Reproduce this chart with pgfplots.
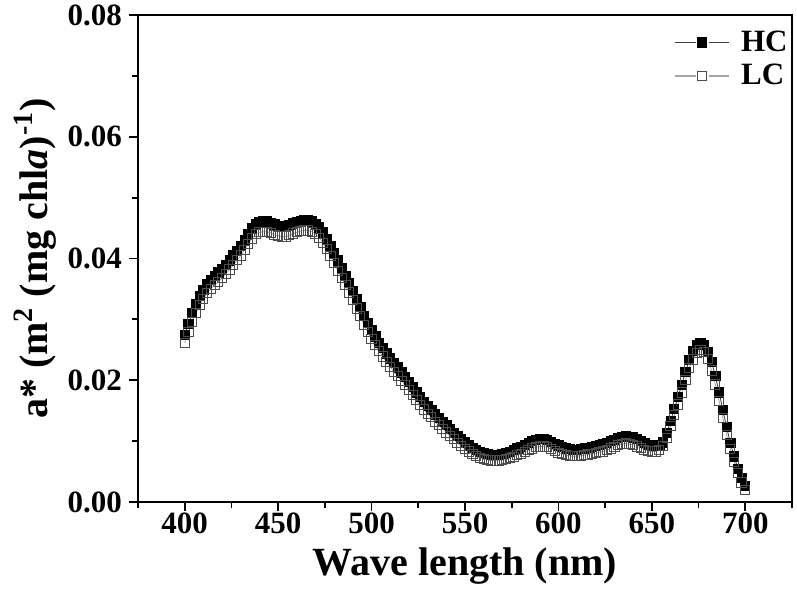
\documentclass[border=0pt]{standalone}
\usepackage{pgfplots}
\pgfplotsset{compat=1.18}
\usepackage{pgfplotstable}
\usepackage{fontspec}
\setmainfont{Liberation Serif}
\pgfplotstableread{
x LC HC
400 .0261 .0275
402 .0279 .0293
404 .0296 .0310
406 .0310 .0325
408 .0323 .0338
410 .0334 .0349
412 .0343 .0358
414 .0350 .0365
416 .0356 .0371
418 .0362 .0377
420 .0368 .0383
422 .0375 .0390
424 .0382 .0397
426 .0389 .0405
428 .0397 .0413
430 .0405 .0421
432 .0414 .0430
434 .0424 .0441
436 .0433 .0450
438 .0440 .0457
440 .0443 .0460
442 .0444 .0461
444 .0444 .0461
446 .0442 .0459
448 .0439 .0456
450 .0437 .0454
452 .0436 .0453
454 .0436 .0453
456 .0438 .0455
458 .0441 .0458
460 .0443 .0460
462 .0445 .0462
464 .0446 .0463
466 .0446 .0463
468 .0444 .0461
470 .0440 .0457
472 .0434 .0451
474 .0426 .0443
476 .0415 .0432
478 .0404 .0421
480 .0392 .0409
482 .0380 .0397
484 .0368 .0385
486 .0356 .0372
488 .0344 .0360
490 .0332 .0347
492 .0318 .0333
494 .0305 .0320
496 .0291 .0306
498 .0279 .0294
500 .0268 .0283
502 .0258 .0272
504 .0248 .0262
506 .0239 .0253
508 .0230 .0244
510 .0222 .0236
512 .0214 .0228
514 .0207 .0221
516 .0199 .0213
518 .0192 .0205
520 .0184 .0197
522 .0176 .0189
524 .0167 .0180
526 .0159 .0172
528 .0152 .0165
530 .0145 .0158
532 .0139 .0151
534 .0132 .0144
536 .0126 .0138
538 .0120 .0132
540 .0114 .0126
542 .0108 .0120
544 .0103 .0114
546 .0097 .0108
548 .0092 .0103
550 .0087 .0098
552 .0083 .0093
554 .0079 .0089
556 .0075 .0085
558 .0072 .0082
560 .0070 .0080
562 .0069 .0079
564 .0068 .0078
566 .0068 .0078
568 .0068 .0078
570 .0069 .0079
572 .0070 .0080
574 .0072 .0082
576 .0074 .0085
578 .0077 .0088
580 .0079 .0091
582 .0082 .0094
584 .0085 .0097
586 .0088 .0100
588 .0090 .0102
590 .0091 .0103
592 .0091 .0103
594 .0090 .0102
596 .0087 .0099
598 .0084 .0096
600 .0081 .0093
602 .0079 .0090
604 .0077 .0088
606 .0076 .0087
608 .0075 .0086
610 .0075 .0086
612 .0076 .0087
614 .0077 .0088
616 .0078 .0089
618 .0079 .0091
620 .0080 .0092
622 .0082 .0094
624 .0083 .0095
626 .0085 .0097
628 .0088 .0100
630 .0090 .0102
632 .0093 .0105
634 .0095 .0107
636 .0096 .0108
638 .0095 .0107
640 .0094 .0106
642 .0091 .0103
644 .0089 .0100
646 .0086 .0097
648 .0084 .0094
650 .0083 .0093
652 .0083 .0093
654 .0085 .0094
656 .0092 .0098
658 .0105 .0113
660 .0125 .0133
662 .0143 .0153
664 .0160 .0172
666 .0180 .0193
668 .0200 .0214
670 .0220 .0233
672 .0234 .0248
674 .0245 .0258
676 .0250 .0261
678 .0247 .0258
680 .0235 .0247
682 .0216 .0230
684 .0193 .0207
686 .0166 .0180
688 .0138 .0151
690 .0110 .0123
692 .0087 .0097
694 .0066 .0075
696 .0047 .0055
698 .0032 .0039
700 .0020 .0026
}\datatable
\begin{document}
\begin{tikzpicture}
\begin{axis}[
  scale only axis,
  width=327pt, height=243.5pt,
  xmin=375, xmax=725, ymin=0, ymax=0.08,
  xtick={400,450,...,700},
  minor xtick={375,425,...,725},
  ytick={0,0.02,...,0.08},
  minor ytick={0.01,0.03,...,0.07},
  tick align=outside,
  xtick pos=left, ytick pos=left,
  major tick length=4.5pt, minor tick length=3pt,
  every tick/.style={black, line width=0.9pt},
  axis line style={line width=1pt},
  /pgf/number format/assume math mode=true,
  ticklabel style={font=\fontsize{15.5}{15.5}\selectfont\bfseries},
  yticklabel style={/pgf/number format/.cd, fixed, fixed zerofill, precision=2},
  xticklabel style={/pgf/number format/.cd, fixed, precision=0},
  xticklabel shift=-2.5pt,
  scaled y ticks=false,
  xlabel={Wave length (nm)},
  ylabel={a* (m\textsuperscript{2} (mg chl\textit{a})\textsuperscript{-1})},
  label style={font=\fontsize{20}{20}\selectfont\bfseries},
  xlabel style={yshift=0pt},
  ylabel style={yshift=-1pt},
  legend style={draw=none, fill=none, at={(1.0,0.985)}, anchor=north east,
    xshift=3pt,
    font=\fontsize{15.5}{17}\selectfont\bfseries, row sep=1pt},
  legend cell align=left,
  legend image code/.code={
    \draw[line width=0.6pt] (0cm,0cm) -- (0.36cm,0cm);
    \draw[line width=0.6pt] (0.59cm,0cm) -- (0.95cm,0cm);
    \draw[only marks] plot coordinates {(0.475cm,0cm)};
    \path (1.08cm,0cm);
  },
]
\addplot[black!75, line width=0.4pt, mark=square*, mark size=2.3pt,
  mark options={fill=black, draw=black, line width=0.4pt}] table[x=x, y=HC] {\datatable};
\addlegendentry{HC}
\addplot[gray!70, line width=0.4pt, mark=square, mark size=2.3pt,
  mark options={fill=white, draw=gray!60!black, line width=0.5pt}] table[x=x, y=LC] {\datatable};
\addlegendentry{LC}
\coordinate (sw) at (rel axis cs:0,0);
\coordinate (ne) at (rel axis cs:1,1);
\end{axis}
\path (sw) ++(-69pt,-44.5pt) coordinate (bl);
\path (ne) ++(2.5pt,7.5pt) coordinate (tr);
\pgfresetboundingbox
\path (bl) rectangle (tr);
\end{tikzpicture}
\end{document}
